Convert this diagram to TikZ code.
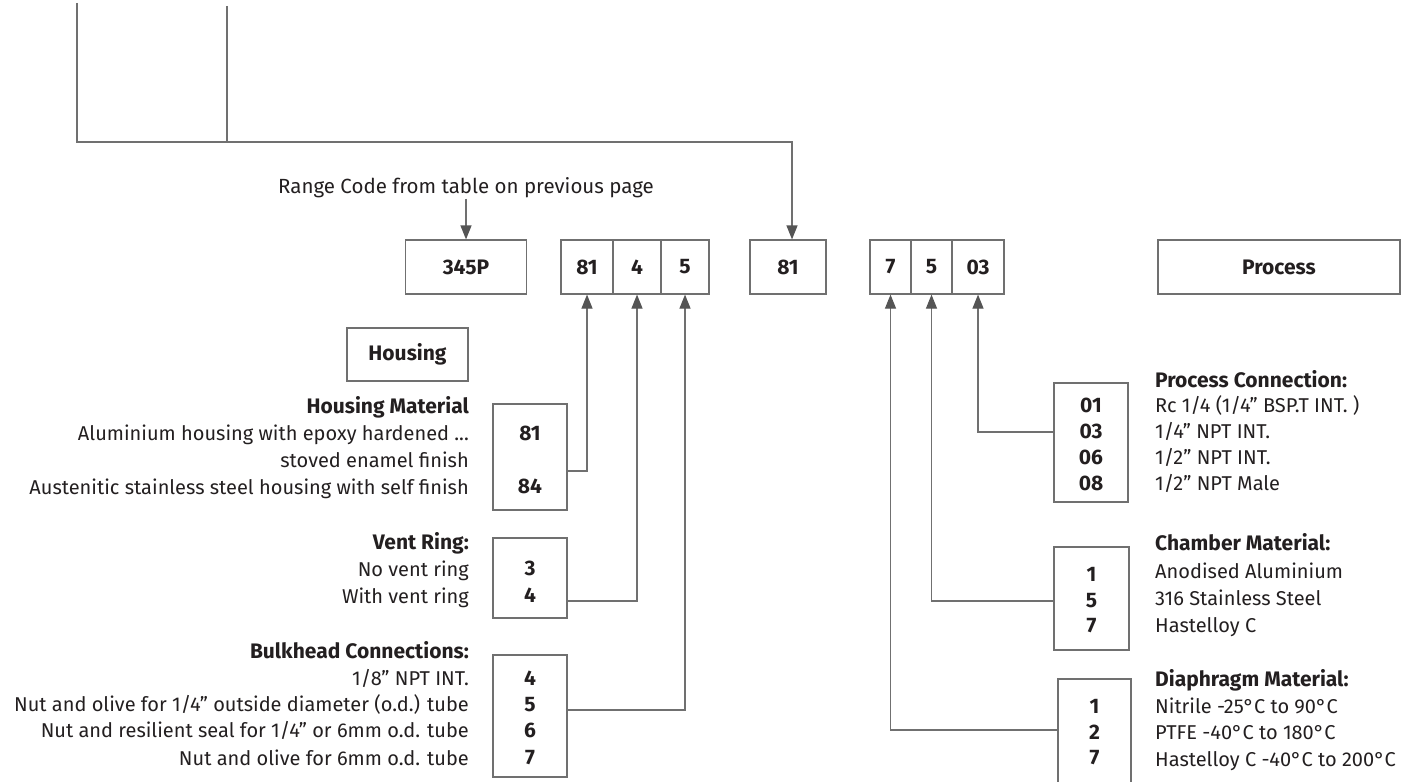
\documentclass[tikz,border=0pt]{standalone}
\usepackage{fontspec}
\setmainfont{Fira Sans}
\usetikzlibrary{arrows.meta}
\definecolor{ln}{HTML}{707070}
\definecolor{ah}{HTML}{555555}
\definecolor{tx}{HTML}{231F20}
\tikzset{
  box/.style={draw=ln, line width=1.2pt, inner sep=0pt, text=tx,
    font=\fontsize{21}{24}\selectfont\bfseries},
  num/.style={inner sep=0pt, anchor=base, text=tx, font=\fontsize{21}{24}\selectfont\bfseries},
  lt/.style={inner sep=0pt, anchor=base east, text=tx, font=\fontsize{20}{24}\selectfont},
  rt/.style={inner sep=0pt, anchor=base west, text=tx, font=\fontsize{20}{24}\selectfont},
  lh/.style={lt, font=\fontsize{21}{24}\selectfont\bfseries},
  rh/.style={rt, font=\fontsize{21}{24}\selectfont\bfseries},
  conn/.style={draw=ln, line width=1.2pt},
  arr/.style={conn, -{Triangle[width=11pt,length=14pt,color=ah]}},
}
\begin{document}
\begin{tikzpicture}[x=1pt,y=-1pt]
\path[use as bounding box] (0,0) rectangle (1412,781);
\clip (0,0) rectangle (1412,781);

% top row
\node[box, minimum width=121pt, minimum height=54pt] (b345) at (466,267) {345P};
\node[box, minimum width=52pt, minimum height=54pt] (c81) at (587,267) {81};
\node[box, minimum width=48pt, minimum height=54pt] (c4) at (637,267) {4};
\node[box, minimum width=48pt, minimum height=54pt] (c5) at (685,267) {5};
\node[box, minimum width=76pt, minimum height=54pt] (b81) at (788,267) {81};
\node[box, minimum width=41pt, minimum height=54pt] (d7) at (890.5,267) {7};
\node[box, minimum width=41pt, minimum height=54pt] (d5) at (931.5,267) {5};
\node[box, minimum width=52pt, minimum height=54pt] (d03) at (978,267) {03};
\node[box, minimum width=242pt, minimum height=54pt] (bproc) at (1279,267) {Process};

% range code
\node[inner sep=1pt, anchor=base, text=tx, font=\fontsize{20.5}{24}\selectfont] (range) at (466,193) {Range Code from table on previous page};
\draw[arr] (range.south -| b345.north) -- (b345.north);

% top lines
\coordinate (tl1) at (77,3);
\coordinate (tl2) at (227,6);
\coordinate (tc1) at (77,142);
\coordinate (tc2) at (227,142);
\coordinate (tr) at (792,142);
\draw[conn] (tl2) -- (tc2);
\draw[arr] (tl1) -- (tc1) -- (tr) -- (tr |- b81.north);

% housing
\node[box, minimum width=121pt, minimum height=53pt] (bhousing) at (407.5,354.5) {Housing};

% housing material
\node[box, minimum width=74pt, minimum height=106pt] (bmat) at (530,457) {};
\node[lh] (hm) at (469,413) {Housing Material};
\node[lt] (hm1) at (469,440) {Aluminium housing with epoxy hardened ...};
\node[lt] (hm2) at (469,467) {stoved enamel finish};
\node[lt] (hm3) at (469,494) {Austenitic stainless steel housing with self finish};
\node[num] (n81) at (530,440) {81};
\node[num] (n84) at (530,493) {84};
\draw[arr] (bmat.east |- 0,471) -| (c81.south);

% vent ring
\node[box, minimum width=74pt, minimum height=80pt] (bvent) at (530,578) {};
\node[lh] (vr) at (469,549) {Vent Ring:};
\node[lt] (vr1) at (469,576) {No vent ring};
\node[lt] (vr2) at (469,603) {With vent ring};
\node[num] (n3) at (530,575) {3};
\node[num] (n4) at (530,602) {4};
\draw[arr] (bvent.east |- 0,601) -| (c4.south);

% bulkhead
\node[box, minimum width=74pt, minimum height=122pt] (bbulk) at (530,716) {};
\node[lh] (bc) at (469,658) {Bulkhead Connections:};
\node[lt] (bc1) at (469,685) {1/8” NPT INT.};
\node[lt] (bc2) at (469,711) {Nut and olive for 1/4” outside diameter (o.d.) tube};
\node[lt] (bc3) at (469,737) {Nut and resilient seal for 1/4” or 6mm o.d. tube};
\node[lt] (bc4) at (469,765) {Nut and olive for 6mm o.d. tube};
\node[num] (m4) at (530,685) {4};
\node[num] (m5) at (530,711) {5};
\node[num] (m6) at (530,737) {6};
\node[num] (m7) at (530,764) {7};
\draw[arr] (bbulk.east |- 0,710) -| (c5.south);

% process connection
\node[box, minimum width=74pt, minimum height=119pt] (bpc) at (1091,442.5) {};
\node[rh] (pc) at (1155,387) {Process Connection:};
\node[rt] (pc1) at (1155,412) {Rc 1/4 (1/4” BSP.T INT. )};
\node[rt] (pc2) at (1155,438) {1/4” NPT INT.};
\node[rt] (pc3) at (1155,464) {1/2” NPT INT.};
\node[rt] (pc4) at (1155,490) {1/2” NPT Male};
\node[num] (p01) at (1091,412) {01};
\node[num] (p03) at (1091,438) {03};
\node[num] (p06) at (1091,464) {06};
\node[num] (p08) at (1091,490) {08};
\draw[arr] (bpc.west |- 0,432) -| (d03.south);

% chamber
\node[box, minimum width=75pt, minimum height=103pt] (bcham) at (1091.5,598.5) {};
\node[rh] (cm) at (1155,550) {Chamber Material:};
\node[rt] (cm1) at (1155,578) {Anodised Aluminium};
\node[rt] (cm2) at (1155,605) {316 Stainless Steel};
\node[rt] (cm3) at (1155,632) {Hastelloy C};
\node[num] (k1) at (1091.5,581) {1};
\node[num] (k5) at (1091.5,607) {5};
\node[num] (k7) at (1091.5,632) {7};
\draw[arr] (bcham.west |- 0,601) -| (d5.south);

% diaphragm
\node[box, minimum width=73pt, minimum height=121pt] (bdia) at (1094.5,739.5) {};
\node[rh] (dm) at (1155,686) {Diaphragm Material:};
\node[rt] (dm1) at (1155,713) {Nitrile -25°C to 90°C};
\node[rt] (dm2) at (1155,739) {PTFE -40°C to 180°C};
\node[rt] (dm3) at (1155,766) {Hastelloy C -40°C to 200°C};
\node[num] (q1) at (1094.5,713) {1};
\node[num] (q2) at (1094.5,739) {2};
\node[num] (q7) at (1094.5,764) {7};
\draw[arr] (bdia.west |- 0,730) -| (d7.south);
\end{tikzpicture}
\end{document}
